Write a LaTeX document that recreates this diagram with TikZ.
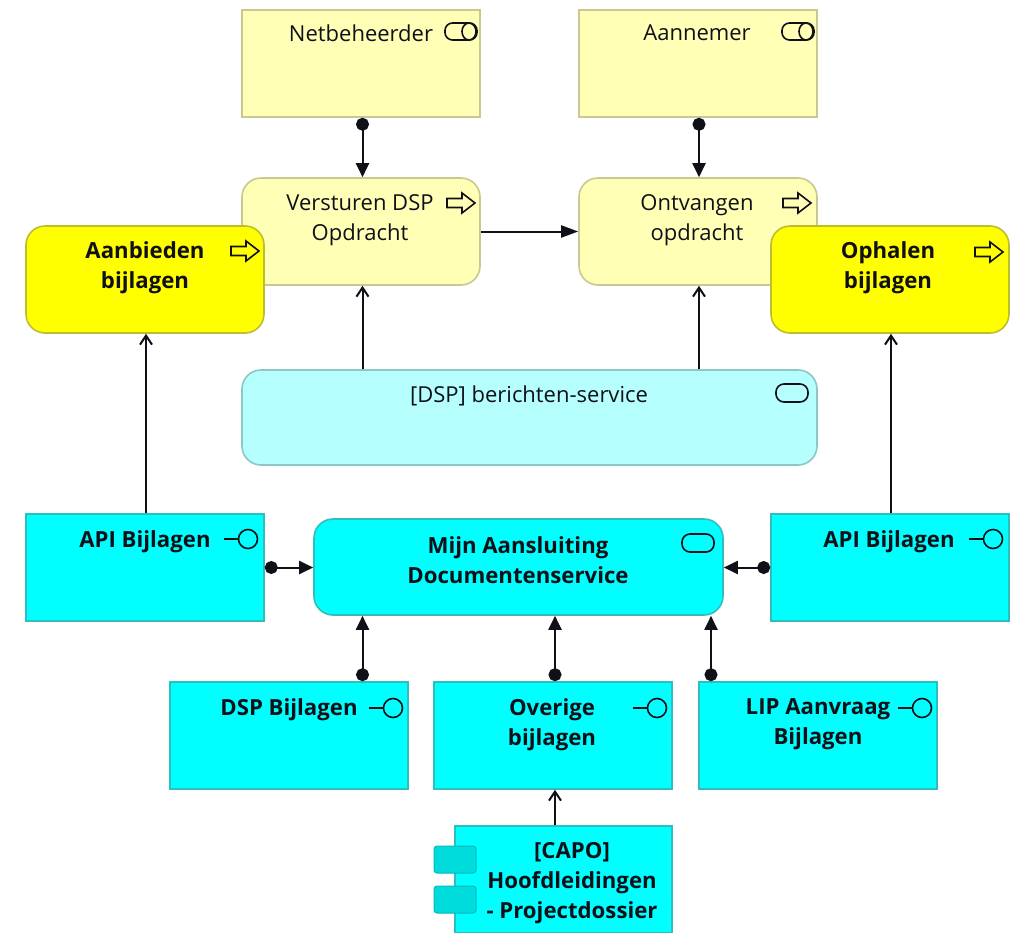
\documentclass[tikz,border=0pt]{standalone}
\usepackage{fontspec}
\setmainfont{Open Sans}
\usetikzlibrary{arrows.meta,calc}
\definecolor{lyellow}{HTML}{FFFFB5}
\definecolor{lyedge}{HTML}{C8C890}
\definecolor{byellow}{HTML}{FFFF00}
\definecolor{byedge}{HTML}{BDBD30}
\definecolor{lblue}{HTML}{B5FFFF}
\definecolor{lbedge}{HTML}{8CC6C6}
\definecolor{bcyan}{HTML}{00FFFF}
\definecolor{bcedge}{HTML}{30BDBD}
\definecolor{tabcyan}{HTML}{00DCDC}
\definecolor{ink}{HTML}{101018}
\tikzset{
  box/.style={draw,line width=1.6pt,inner sep=0pt,minimum width=238pt,minimum height=107pt},
  yrect/.style={box,fill=lyellow,draw=lyedge},
  yround/.style={box,fill=lyellow,draw=lyedge,rounded corners=19pt},
  byround/.style={box,fill=byellow,draw=byedge,rounded corners=19pt},
  crect/.style={box,fill=bcyan,draw=bcedge},
  cround/.style={box,fill=bcyan,draw=bcedge,rounded corners=19pt},
  lbround/.style={box,fill=lblue,draw=lbedge,rounded corners=19pt},
  lbl/.style={align=center,inner sep=0pt,text=ink,font=\fontsize{22}{30}\selectfont,anchor=north},
  blbl/.style={lbl,font=\fontsize{22.2}{30}\selectfont\bfseries},
  assign/.style={line width=2pt,draw=ink,{Circle[length=13pt,width=13pt]}-{Triangle[length=14pt,width=13pt]}},
  serve/.style={line width=2pt,draw=ink,-{Straight Barb[length=9pt,width=12pt]}},
  trig/.style={line width=2pt,draw=ink,-{Triangle[length=17pt,width=12pt]}},
  icon/.style={line width=1.6pt,draw=ink},
  tabbox/.style={draw=tabcyan!85!black,fill=tabcyan,line width=1pt,rounded corners=3pt,minimum width=42pt,minimum height=27pt,inner sep=0pt},
}
\newcommand{\ifaceicon}[2]{\draw[icon] (#1-24,#2) -- (#1-9.5,#2); \draw[icon] (#1,#2) circle (9.5);}
\newcommand{\arrowicon}[2]{\draw[icon,line join=miter] (#1-14,#2-4.5) -- (#1+1,#2-4.5) -- (#1+1,#2-10) -- (#1+14,#2) -- (#1+1,#2+10) -- (#1+1,#2+4.5) -- (#1-14,#2+4.5) -- cycle;}
\newcommand{\collabicon}[2]{\draw[icon,rounded corners=7.5pt] (#1-16,#2-8.5) rectangle (#1+16,#2+8.5); \draw[icon] (#1+8,#2) ellipse [x radius=7,y radius=8.5];}
\newcommand{\serviceicon}[2]{\draw[icon,rounded corners=8pt] (#1-16,#2-9) rectangle (#1+16,#2+9);}
\begin{document}
\begin{tikzpicture}[x=1pt,y=-1pt]
\useasboundingbox[fill=white] (0,0) rectangle (1020,932);
\clip (0,0) rectangle (1020,932);

% upper row
\node[yrect] (net) at (361,63.5) {};
\node[yrect] (ann) at (698,63.5) {};
\node[yround] (ver) at (361,231.5) {};
\node[yround] (ont) at (698,231.5) {};
\node[lbround,minimum width=575pt,minimum height=95pt] (svc) at (529.5,417.5) {};
\coordinate (svcL) at ($(svc.north -| ver.south)+(1.5,0)$);
\coordinate (svcR) at ($(svc.north -| ont.south)+(1,0)$);

\draw[assign] ([xshift=1.5pt]net.south) -- ([xshift=1.5pt]ver.north);
\draw[assign] ([xshift=1pt]ann.south) -- ([xshift=1pt]ont.north);
\draw[trig] (ver.east) -- (ont.west);
\draw[serve] (svcL) -- (svcL |- ver.south);
\draw[serve] (svcR) -- (svcR |- ont.south);

\node[byround] (aan) at (145,279.5) {};
\node[byround] (oph) at (890,279.5) {};

% lower row
\node[crect] (apiL) at (145,567.5) {};
\node[crect] (apiR) at (890,567.5) {};
\node[cround,minimum width=409pt,minimum height=96pt] (mijn) at (518.5,567) {};
\node[crect] (dsp) at (289,735.5) {};
\node[crect] (ove) at (553,735.5) {};
\node[crect] (lip) at (818,735.5) {};
\node[crect,minimum width=217pt] (capo) at (563.5,879.5) {};
\node[tabbox] (tabA) at (455,859.5) {};
\node[tabbox] (tabB) at (455,899.5) {};

\coordinate (mijnL) at (apiL.east -| mijn.west);
\coordinate (mijnR) at (apiR.west -| mijn.east);
\coordinate (dspTop) at ($(dsp.north)+(73.5,0)$);
\coordinate (oveTop) at ($(ove.north)+(2,0)$);
\coordinate (lipTop) at ($(lip.north)+(-107,0)$);
\draw[serve] ([xshift=1pt]apiL.north) -- ([xshift=1pt]aan.south);
\draw[serve] ([xshift=1pt]apiR.north) -- ([xshift=1pt]oph.south);
\draw[assign] (apiL.east) -- (mijnL);
\draw[assign] (apiR.west) -- (mijnR);
\draw[assign] (dspTop) -- (dspTop |- mijn.south);
\draw[assign] (oveTop) -- (oveTop |- mijn.south);
\draw[assign] (lipTop) -- (lipTop |- mijn.south);
\draw[serve] (capo.north -| oveTop) -- (oveTop |- ove.south);

% labels
\node[lbl] (tNet) at (361,25) {Netbeheerder};
\node[lbl] (tAnn) at (697,25) {Aannemer};
\node[lbl] (tVer) at (360,194) {Versturen DSP\\Opdracht};
\node[lbl] (tOnt) at (697,194) {Ontvangen\\opdracht};
\node[blbl] (tAan) at (145,241) {Aanbieden\\bijlagen};
\node[blbl] (tOph) at (888,241) {Ophalen\\bijlagen};
\node[lbl] (tSvc) at (529,386) {[DSP] berichten-service};
\node[blbl] (tApiL) at (145,530) {API Bijlagen};
\node[blbl] (tApiR) at (889,530) {API Bijlagen};
\node[blbl] (tMijn) at (518,536) {Mijn Aansluiting\\Documentenservice};
\node[blbl] (tDsp) at (289,698) {DSP Bijlagen};
\node[blbl] (tOve) at (552,698) {Overige\\bijlagen};
\node[blbl] (tLip) at (818,698) {LIP Aanvraag\\Bijlagen};
\node[blbl] (tCapo) at (572,842) {[CAPO]\\Hoofdleidingen\\- Projectdossier};

% icons
\collabicon{461}{31.5}
\collabicon{798}{31.5}
\arrowicon{461}{203}
\arrowicon{797}{203}
\arrowicon{245}{251}
\arrowicon{989}{252}
\serviceicon{792}{393}
\serviceicon{698}{543}
\ifaceicon{248}{539}
\ifaceicon{993}{539}
\ifaceicon{393}{708}
\ifaceicon{657}{708}
\ifaceicon{922}{708}
\end{tikzpicture}
\end{document}
